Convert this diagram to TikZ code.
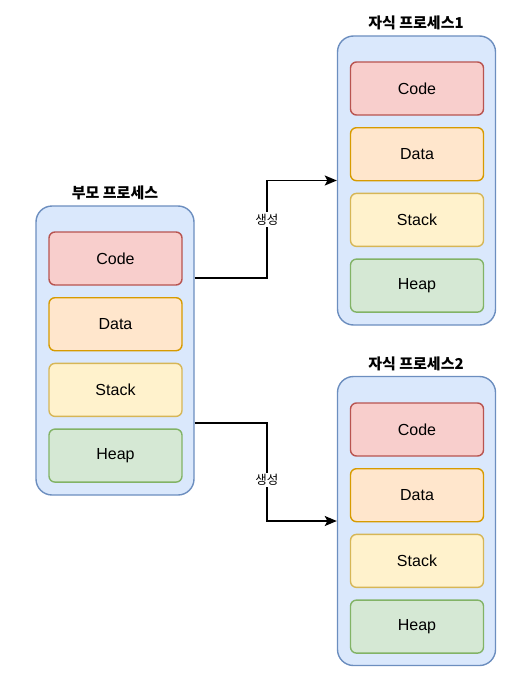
\documentclass[tikz,border=0pt]{standalone}
\usepackage{fontspec}
\setmainfont{Liberation Sans}
\newfontfamily\kor{Noto Sans CJK KR}
\usetikzlibrary{arrows.meta}
\definecolor{procfill}{HTML}{DAE8FC}
\definecolor{procline}{HTML}{6C8EBF}
\definecolor{codefill}{HTML}{F8CECC}
\definecolor{codeline}{HTML}{B85450}
\definecolor{datafill}{HTML}{FFE6CC}
\definecolor{dataline}{HTML}{D79B00}
\definecolor{stackfill}{HTML}{FFF2CC}
\definecolor{stackline}{HTML}{D6B656}
\definecolor{heapfill}{HTML}{D5E8D4}
\definecolor{heapline}{HTML}{82B366}
\tikzset{
	proc/.style={draw=procline, fill=procfill, line width=1.4pt, rounded corners=16pt, minimum width=158pt, minimum height=289pt, inner sep=0pt},
	seg/.style={line width=1.4pt, rounded corners=6pt, minimum width=133pt, minimum height=53pt, inner sep=0pt, font=\fontsize{16}{19}\selectfont},
	title/.style={font=\kor\bfseries\fontsize{15}{18}\selectfont},
	arr/.style={line width=1.5pt, -{Stealth[length=12pt,width=10pt,inset=2.5pt]}},
	lbl/.style={fill=white, inner sep=1.5pt, font=\kor\fontsize{12.5}{15}\selectfont}
}
\begin{document}
\begin{tikzpicture}[x=1pt, y=-1pt]
	\useasboundingbox (0,0) rectangle (504,677);
	\node[proc] (par) at (115,350.5){};
	\node[proc] (ch1) at (416.5,180.5){};
	\node[proc] (ch2) at (416.5,521){};
	\node[title] (tpar) at (115,193){부모 프로세스};
	\node[title] (tch1) at (416,23){자식 프로세스1};
	\node[title] (tch2) at (416,364){자식 프로세스2};
	\begin{scope} [every node/.style={seg}]
		\node[draw=codeline, fill=codefill] (par1) at (115.5,258.5){Code};
		\node[draw=dataline, fill=datafill] (par2) at (115.5,324.2){Data};
		\node[draw=stackline, fill=stackfill] (par3) at (115.5,389.9){Stack};
		\node[draw=heapline, fill=heapfill] (par4) at (115.5,455.6){Heap};
		\node[draw=codeline, fill=codefill] (cha1) at (417,88.5){Code};
		\node[draw=dataline, fill=datafill] (cha2) at (417,154.2){Data};
		\node[draw=stackline, fill=stackfill] (cha3) at (417,219.9){Stack};
		\node[draw=heapline, fill=heapfill] (cha4) at (417,285.6){Heap};
		\node[draw=codeline, fill=codefill] (chb1) at (417,429.5){Code};
		\node[draw=dataline, fill=datafill] (chb2) at (417,495.2){Data};
		\node[draw=stackline, fill=stackfill] (chb3) at (417,560.9){Stack};
		\node[draw=heapline, fill=heapfill] (chb4) at (417,626.6){Heap};
	\end{scope}
	\draw[arr] ([yshift=72.5pt]par.east) -| ([xshift=-70pt]ch1.west) node[lbl, pos=0.8]{생성} -- (ch1.west);
	\draw[arr] ([yshift=-72.5pt]par.east) -| ([xshift=-70pt]ch2.west) node[lbl, pos=0.79]{생성} -- (ch2.west);
\end{tikzpicture}
\end{document}
